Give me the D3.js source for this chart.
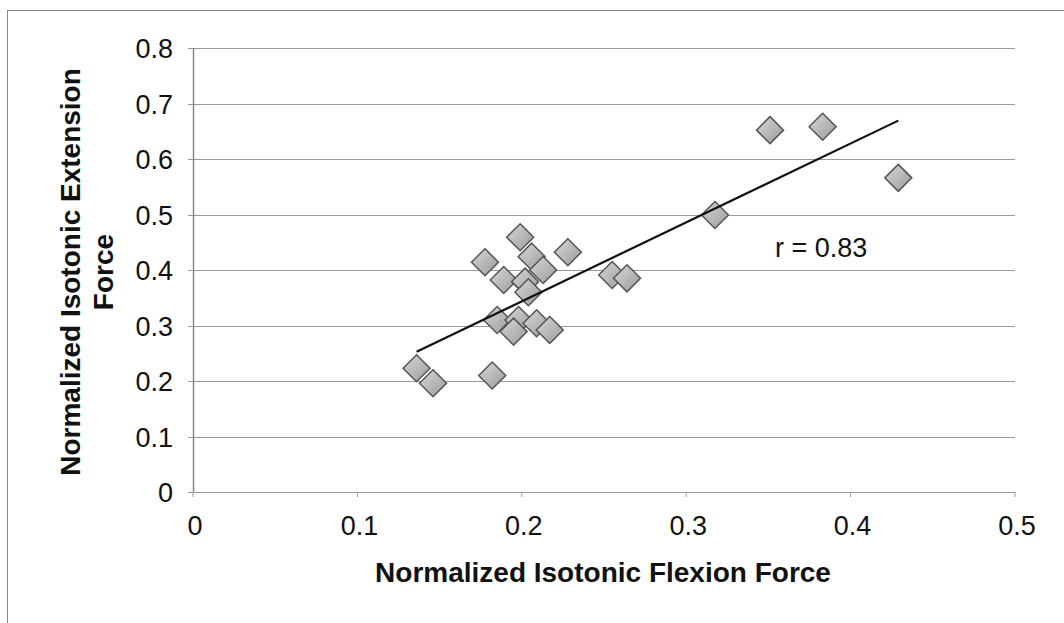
<!DOCTYPE html>
<html><head><meta charset="utf-8">
<script src="https://cdn.jsdelivr.net/npm/d3@7"></script>
<style>body{margin:0;background:#fff}svg{display:block;font-family:"Liberation Sans",Arial,sans-serif}</style>
</head><body><svg id="c" width="1064" height="623"></svg>
<script>
const flexion = [0.1776,0.199,0.206,0.213,0.228,0.189,0.202,0.204,0.255,0.264,0.185,0.198,0.195,0.209,0.217,0.136,0.146,0.182,0.351,0.383,0.429,0.3175];
const extension = [0.414,0.459,0.424,0.40,0.432,0.382,0.379,0.36,0.391,0.385,0.31,0.31,0.289,0.304,0.292,0.223,0.196,0.21,0.652,0.658,0.566,0.499];
const xTicks = [0,0.1,0.2,0.3,0.4,0.5];
const yTicks = [0,0.1,0.2,0.3,0.4,0.5,0.6,0.7,0.8];
const xTitle = "Normalized Isotonic Flexion Force";
const yTitle = ["Normalized Isotonic Extension","Force"];
const rLabel = "r = 0.83";

const svg = d3.select("#c");
const x = d3.scaleLinear().domain([0,0.5]).range([193,1015]);
const y = d3.scaleLinear().domain([0,0.8]).range([492,48]);

// outer frame
svg.append("line").attr("x1",7).attr("x2",1064).attr("y1",10.5).attr("y2",10.5).attr("stroke","#888").attr("stroke-width",1);
svg.append("line").attr("x1",7.5).attr("x2",7.5).attr("y1",10).attr("y2",623).attr("stroke","#888").attr("stroke-width",1);

// gridlines
svg.append("g").selectAll("line").data(yTicks).join("line")
  .attr("x1",188).attr("x2",1015).attr("y1",d=>Math.round(y(d))+0.5).attr("y2",d=>Math.round(y(d))+0.5)
  .attr("stroke","#9a9a9a").attr("stroke-width",1);
// y axis line
svg.append("line").attr("x1",193.5).attr("x2",193.5).attr("y1",y(0.8)).attr("y2",y(0)).attr("stroke","#8a8a8a").attr("stroke-width",1.5);
// x ticks
svg.append("g").selectAll("line").data(xTicks).join("line")
  .attr("x1",d=>x(d)).attr("x2",d=>x(d)).attr("y1",y(0)).attr("y2",y(0)+5).attr("stroke","#9a9a9a");

// tick labels
svg.append("g").selectAll("text").data(yTicks).join("text")
  .attr("x",173).attr("y",d=>y(d)+10).attr("text-anchor","end").attr("font-size",27).attr("fill","#111")
  .text(d=>d===0?"0":d3.format(".1f")(d));
svg.append("g").selectAll("text").data(xTicks).join("text")
  .attr("x",d=>x(d)+2).attr("y",535).attr("text-anchor","middle").attr("font-size",27).attr("fill","#111")
  .text(d=>d===0?"0":d3.format(".1f")(d));

// titles
svg.append("text").attr("x",603).attr("y",582).attr("text-anchor","middle").attr("font-size",28).attr("font-weight","bold").attr("fill","#111").text(xTitle);
const yt = svg.append("text").attr("transform","translate(80,272) rotate(-90)").attr("text-anchor","middle").attr("font-size",28).attr("font-weight","bold").attr("fill","#111");
yTitle.forEach((t,i)=>yt.append("tspan").attr("x",0).attr("dy",i===0?0:33).text(t));

// regression line
const n = flexion.length;
const mx = d3.mean(flexion), my = d3.mean(extension);
let sxy=0,sxx=0;
for(let i=0;i<n;i++){sxy+=(flexion[i]-mx)*(extension[i]-my);sxx+=(flexion[i]-mx)**2;}
const b = sxy/sxx, a = my-b*mx;
const [x0,x1] = d3.extent(flexion);

// markers
const defs = svg.append("defs");
const g = defs.append("linearGradient").attr("id","dg").attr("x1","0").attr("y1","0").attr("x2","1").attr("y2","1");
g.append("stop").attr("offset","0").attr("stop-color","#d8d8d8");
g.append("stop").attr("offset","1").attr("stop-color","#9a9a9a");
const s = 13.5;
svg.append("g").selectAll("path").data(flexion.map((f,i)=>[f,extension[i]])).join("path")
  .attr("d",d=>`M${x(d[0])},${y(d[1])-s}L${x(d[0])+s},${y(d[1])}L${x(d[0])},${y(d[1])+s}L${x(d[0])-s},${y(d[1])}Z`)
  .attr("fill","url(#dg)").attr("stroke","#555").attr("stroke-width",1.5);

svg.append("line").attr("x1",x(x0)).attr("y1",y(a+b*x0)).attr("x2",x(x1)).attr("y2",y(a+b*x1))
  .attr("stroke","#111").attr("stroke-width",2.2);

svg.append("text").attr("x",775).attr("y",257).attr("font-size",27).attr("fill","#111").text(rLabel);
</script></body></html>
